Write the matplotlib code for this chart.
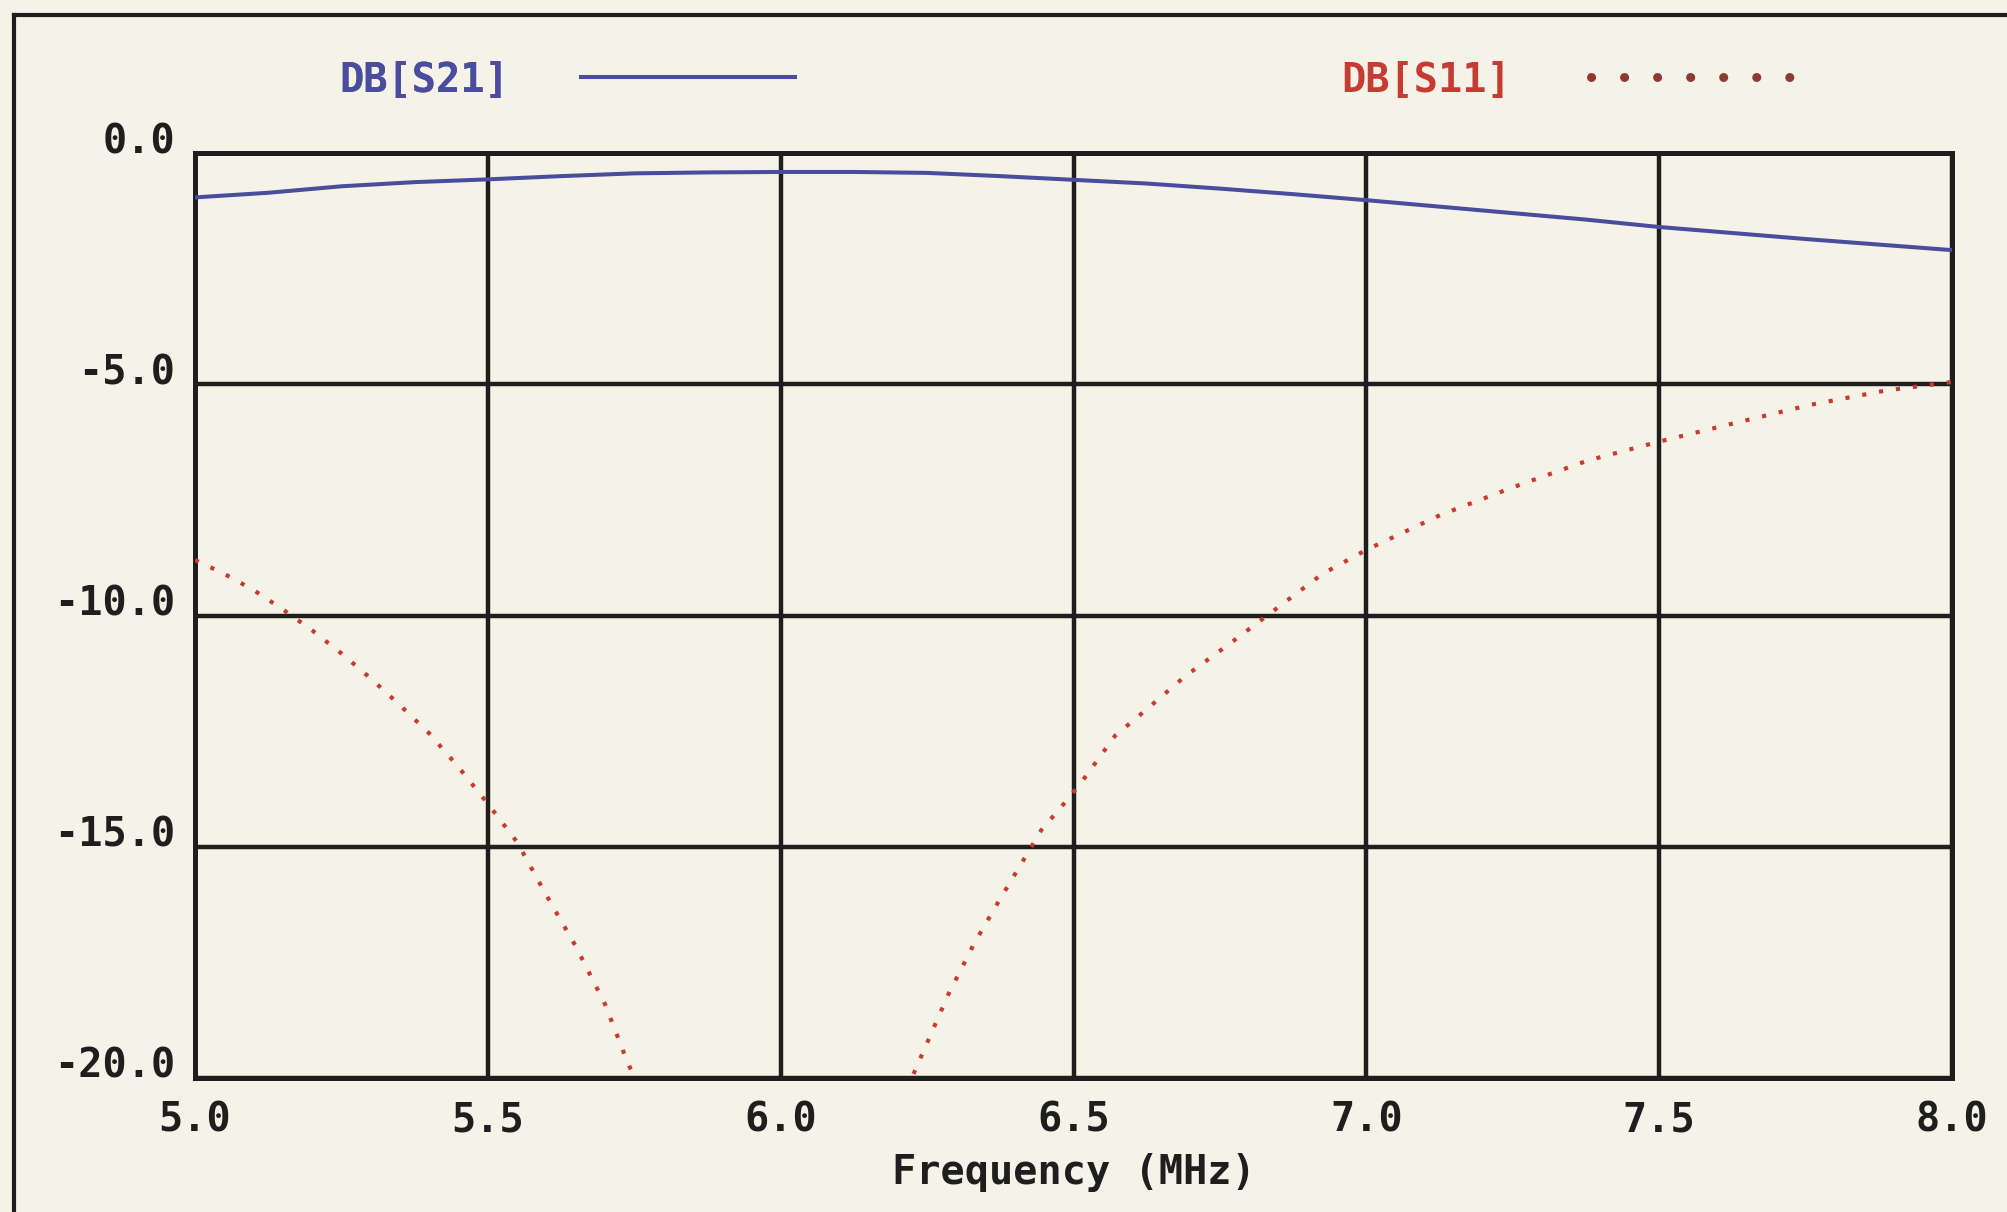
import numpy as np
import matplotlib
matplotlib.use("Agg")
import matplotlib.pyplot as plt
from matplotlib.lines import Line2D

# ---- data ----
freq_s21 = [5.0, 5.125, 5.25, 5.375, 5.5, 5.625, 5.75, 5.875, 6.0, 6.125, 6.25,
            6.375, 6.5, 6.625, 6.75, 6.875, 7.0, 7.125, 7.25, 7.375, 7.5, 7.625,
            7.75, 7.875, 8.0]
db_s21 = [-0.96, -0.86, -0.72, -0.63, -0.57, -0.5, -0.44, -0.42, -0.41, -0.41, -0.43,
          -0.5, -0.58, -0.66, -0.77, -0.89, -1.02, -1.16, -1.3, -1.44, -1.6, -1.73,
          -1.86, -1.98, -2.1]

freq_s11 = [5.0, 5.05, 5.1, 5.15, 5.2, 5.25, 5.3, 5.35, 5.4, 5.45, 5.5, 5.55, 5.6,
            5.65, 5.7, 5.733, 5.75, 5.76, np.nan,
            6.215, 6.229, 6.286, 6.33, 6.376, 6.414, 6.445, 6.483, 6.515, 6.571,
            6.621, 6.691, 6.773, 6.836, 6.924, 7.0, 7.126, 7.252, 7.378, 7.5,
            7.635, 7.76, 7.885, 8.0]
db_s11 = [-8.8, -9.1, -9.45, -9.87, -10.32, -10.82, -11.36, -11.94, -12.55, -13.28,
          -14.07, -14.9, -16.05, -17.15, -18.4, -19.48, -20.0, -20.3, np.nan,
          -20.25, -19.85, -18.2, -17.1, -16.1, -15.3, -14.64, -14.08, -13.58, -12.6,
          -12.07, -11.31, -10.55, -9.95, -9.11, -8.58, -7.83, -7.22, -6.65, -6.24,
          -5.82, -5.44, -5.14, -4.95]

x_ticks = [5.0, 5.5, 6.0, 6.5, 7.0, 7.5, 8.0]
x_ticklabels = ["5.0", "5.5", "6.0", "6.5", "7.0", "7.5", "8.0"]
y_ticks = [0.0, -5.0, -10.0, -15.0, -20.0]
y_ticklabels = ["0.0", "-5.0", "-10.0", "-15.0", "-20.0"]

series_labels = ["DB[S21]", "DB[S11]"]
x_label = "Frequency (MHz)"

# ---- style ----
BG = "#f5f3e8"
INK = "#1e1e1e"
BLUE = "#4a4c9e"
RED = "#c63c32"
DOT_RED = "#8e3a32"
FONT = "DejaVu Sans Mono"
FS = 29

plt.rcParams["font.family"] = [FONT, "DejaVu Sans"]
plt.rcParams["font.weight"] = "bold"

fig = plt.figure(figsize=(20.07, 12.12), dpi=100, facecolor=BG)
ax = fig.add_axes([195 / 2007, 1 - 1078 / 1212, (1952 - 195) / 2007, (1078 - 153) / 1212])
ax.set_facecolor(BG)

ax.plot(freq_s21, db_s21, color=BLUE, lw=2.9, solid_capstyle="butt", zorder=3)
ax.plot(freq_s11, db_s11, color=RED, lw=3.0, dashes=(1, 3.1), zorder=3)

ax.set_xlim(5.0, 8.0)
ax.set_ylim(-20.0, 0.0)
ax.set_xticks(x_ticks)
ax.set_xticklabels(x_ticklabels, fontsize=FS, fontweight="bold", color=INK)
ax.set_yticks(y_ticks)
ax.set_yticklabels(y_ticklabels, fontsize=FS, fontweight="bold", color=INK)
for lab in ax.get_yticklabels():
    lab.set_verticalalignment("baseline")
ax.tick_params(axis="both", length=0)
ax.tick_params(axis="x", pad=16)
ax.tick_params(axis="y", pad=14)
ax.set_xlabel(x_label, fontsize=FS, fontweight="bold", color=INK, labelpad=10)

ax.grid(True, color=INK, lw=3.2, zorder=1)
for sp in ax.spines.values():
    sp.set_color(INK)
    sp.set_linewidth(3.6)

# ---- legends (text first, then line sample) ----
h1 = Line2D([], [], color=BLUE, lw=2.9)
h2 = Line2D([], [], color=DOT_RED, lw=6.5, dashes=(0.01, 3.65), dash_capstyle="round")
leg1 = fig.legend([h1], [series_labels[0]], loc="center left",
                  bbox_to_anchor=(339 / 2007, 1 - 80 / 1212), frameon=False,
                  markerfirst=False, handlelength=5.3, handletextpad=1.8,
                  borderpad=0, borderaxespad=0,
                  prop={"family": FONT, "weight": "bold", "size": FS})
for t in leg1.get_texts():
    t.set_color(BLUE)
leg2 = fig.legend([h2], [series_labels[1]], loc="center left",
                  bbox_to_anchor=(1341 / 2007, 1 - 80 / 1212), frameon=False,
                  markerfirst=False, handlelength=5.0, handletextpad=2.0,
                  borderpad=0, borderaxespad=0,
                  prop={"family": FONT, "weight": "bold", "size": FS})
for t in leg2.get_texts():
    t.set_color(RED)
fig.add_artist(leg1)

# ---- outer page frame (top and left edges) ----
fig.add_artist(Line2D([14 / 2007, 1.0], [1 - 15 / 1212, 1 - 15 / 1212],
                      transform=fig.transFigure, color=INK, lw=3.0))
fig.add_artist(Line2D([14 / 2007, 14 / 2007], [0.0, 1 - 15 / 1212],
                      transform=fig.transFigure, color=INK, lw=3.0))

fig.savefig("out.png", dpi=100, facecolor=BG)
